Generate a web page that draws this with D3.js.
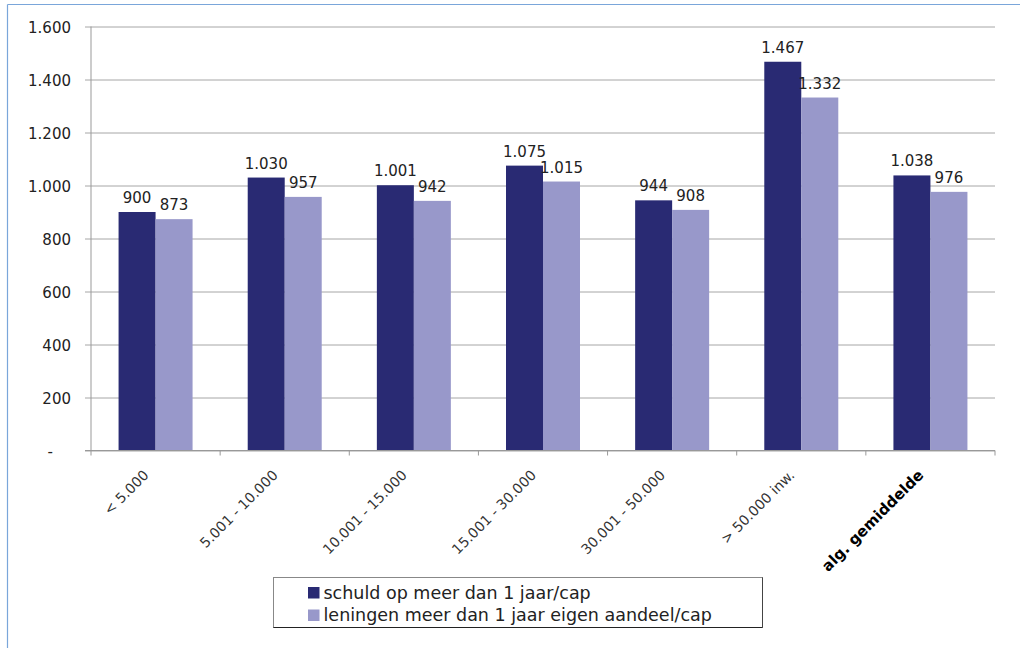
<!DOCTYPE html>
<html><head><meta charset="utf-8">
<script src="https://cdn.jsdelivr.net/npm/d3@7"></script>
<style>
html,body{margin:0;padding:0;background:#fff;}
svg text{font-family:"DejaVu Sans",sans-serif;}
</style></head>
<body>
<svg id="chart" width="1020" height="648"></svg>
<script>
const categories = ["< 5.000","5.001 - 10.000","10.001 - 15.000","15.001 - 30.000","30.001 - 50.000","> 50.000 inw.","alg. gemiddelde"];
const seriesNames = ["schuld op meer dan 1 jaar/cap","leningen meer dan 1 jaar eigen aandeel/cap"];
const schuld = [900,1030,1001,1075,944,1467,1038];
const leningen = [873,957,942,1015,908,1332,976];
const yTicks = [0,200,400,600,800,1000,1200,1400,1600];
const colors = ["#292a73","#9898ca"];

(function(){
const locale = d3.formatLocale({decimal:",",thousands:".",grouping:[3],currency:["€",""]});
const fmt = locale.format(",");

const svg = d3.select("#chart");

// outer frame lines
svg.append("line").attr("x1",7.5).attr("x2",1020).attr("y1",4.5).attr("y2",4.5).attr("stroke","#7aa6da").attr("stroke-width",1.2);
svg.append("line").attr("x1",7.5).attr("x2",7.5).attr("y1",4.5).attr("y2",648).attr("stroke","#7aa6da").attr("stroke-width",1.2);

const pL = 91, pR = 995, pT = 26.5, pB = 450.5;
const y = d3.scaleLinear().domain([0,1600]).range([pB, pT]);
const x0 = d3.scaleBand().domain(categories).range([pL, pR]).padding(0);
const bw = x0.bandwidth();
const gw = bw * 0.573;
const x1 = d3.scaleBand().domain([0,1]).range([(bw-gw)/2, (bw+gw)/2]).padding(0);

// gridlines & y labels
const yAxis = d3.axisLeft(y).tickValues(yTicks).tickSizeInner(-(pR-85)).tickSizeOuter(0).tickPadding(14)
  .tickFormat(d => d === 0 ? "-" : fmt(d));
const gy = svg.append("g").attr("transform","translate(85,0)").call(yAxis);
gy.select(".domain").remove();
gy.selectAll(".tick line").attr("stroke","#a6a6a6").attr("stroke-width",1);
gy.selectAll(".tick text").attr("font-size",15).attr("fill","#222").attr("dy","0.42em")
  .attr("font-family","DejaVu Sans");
gy.selectAll(".tick text").filter(d => d === 0).attr("dx", -18);

// bars
const data = categories.map((c,i) => ({cat:c, vals:[schuld[i], leningen[i]]}));
const groups = svg.append("g").selectAll("g").data(data).join("g")
  .attr("transform", d => `translate(${x0(d.cat)},0)`);
groups.selectAll("rect").data(d => d.vals.map((v,k)=>({v,k}))).join("rect")
  .attr("x", d => x1(d.k)).attr("width", x1.bandwidth())
  .attr("y", d => y(d.v)).attr("height", d => y(0) - y(d.v))
  .attr("fill", d => colors[d.k]);
groups.selectAll("text.val").data(d => d.vals.map((v,k)=>({v,k}))).join("text").attr("class","val")
  .attr("x", d => x1(d.k) + x1.bandwidth()/2).attr("y", d => y(d.v) - 9)
  .attr("text-anchor","middle").attr("font-size",15).attr("fill","#222")
  .text(d => fmt(d.v));

// axes lines
svg.append("line").attr("x1",pL).attr("x2",pL).attr("y1",pT).attr("y2",pB).attr("stroke","#999");
svg.append("line").attr("x1",85).attr("x2",pR).attr("y1",pB).attr("y2",pB).attr("stroke","#999");
const bounds = categories.map(c => x0(c)).concat([pR]);
svg.append("g").selectAll("line").data(bounds).join("line")
  .attr("x1", d => d).attr("x2", d => d).attr("y1", pB).attr("y2", pB+5).attr("stroke","#999");

// x labels
svg.append("g").selectAll("text").data(categories).join("text")
  .attr("transform", d => `translate(${x0(d)+bw/2-6},476) rotate(-45)`)
  .attr("text-anchor","end")
  .attr("font-size", (d,i) => i === categories.length-1 ? 15 : 14)
  .attr("font-weight", (d,i) => i === categories.length-1 ? "bold" : "normal")
  .attr("fill", (d,i) => i === categories.length-1 ? "#000" : "#333")
  .text(d => d);

// legend
const lg = svg.append("g");
lg.append("rect").attr("x",273.5).attr("y",577.5).attr("width",489).attr("height",50)
  .attr("fill","#fff").attr("stroke","#888");
lg.append("line").attr("x1",273.5).attr("x2",762.5).attr("y1",627.5).attr("y2",627.5).attr("stroke","#222");
lg.append("line").attr("x1",762.5).attr("x2",762.5).attr("y1",577.5).attr("y2",627.5).attr("stroke","#444");
const items = lg.selectAll("g.item").data(seriesNames).join("g").attr("class","item")
  .attr("transform",(d,i)=>`translate(308,${587 + i*22.5})`);
items.append("rect").attr("width",11.5).attr("height",11.5).attr("fill",(d,i)=>colors[i]);
items.append("text").attr("x",15.5).attr("y",11.5).attr("font-size",17.5).attr("fill","#222").text(d=>d);
})();
</script>
</body></html>
